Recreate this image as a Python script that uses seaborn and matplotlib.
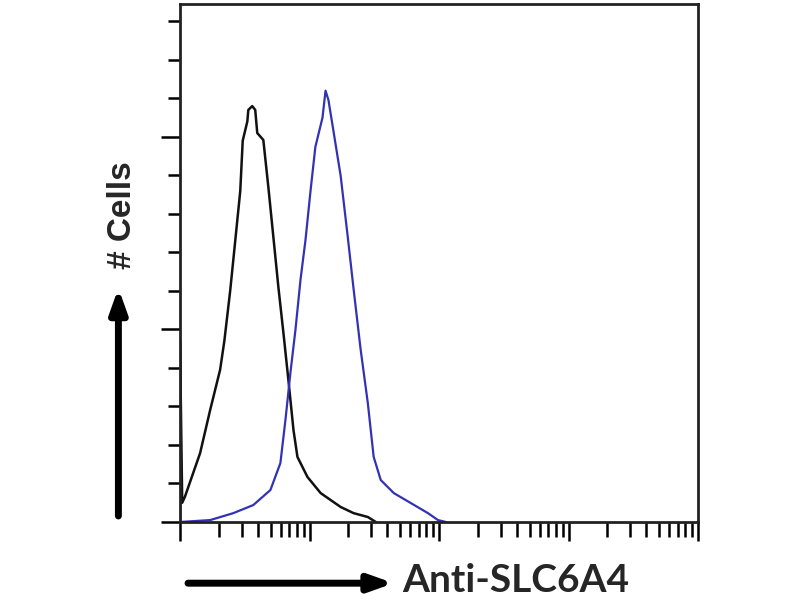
import numpy as np
import pandas as pd
import matplotlib
matplotlib.use("Agg")
import matplotlib.pyplot as plt
import seaborn as sns

# fluorescence intensity (log axis) and cell counts
control_fl = [1.0, 1.0, 1.04, 1.09, 1.43, 1.71, 2.04, 2.20, 2.44, 2.67, 2.92, 3.05, 3.31, 3.37,
              3.61, 3.81, 3.95, 4.40, 4.81, 5.26, 5.75, 6.29, 6.87, 7.52, 8.07, 9.64, 12.2,
              17.4, 21.9, 28.2, 32.5]
control_cnt = [0.0, 4.7, 0.5, 0.65, 1.79, 2.91, 3.95, 4.7, 6.0, 7.3, 8.6, 9.9, 10.4, 10.7,
               10.8, 10.7, 10.1, 9.92, 8.70, 7.40, 6.10, 4.91, 3.69, 2.39, 1.69, 1.17, 0.75,
               0.39, 0.23, 0.13, 0.0]

slc_fl = [1.0, 1.71, 2.58, 3.68, 4.99, 5.96, 6.52, 7.12, 7.79, 8.52, 9.31, 10.2, 11.1, 12.6,
          13.3, 14.0, 15.4, 17.4, 19.7, 21.9, 24.8, 28.2, 31.3, 35.5, 44.8, 60.7, 82.2,
          98.2, 113.0]
slc_cnt = [0.0, 0.05, 0.23, 0.44, 0.83, 1.53, 2.65, 3.87, 4.99, 6.29, 7.32, 8.62, 9.74, 10.5,
           11.2, 10.96, 10.1, 8.99, 7.43, 6.05, 4.49, 3.09, 1.69, 1.09, 0.75, 0.49, 0.23,
           0.05, 0.0]

sns.set_style("white")
plt.rcParams['font.family'] = ['Liberation Sans', 'DejaVu Sans']

fig = plt.figure(figsize=(8, 6), dpi=100)
ax = fig.add_axes([0.225, 0.13, 0.6475, 0.8633])

df1 = pd.DataFrame({"fl": control_fl, "cnt": control_cnt})
df2 = pd.DataFrame({"fl": slc_fl, "cnt": slc_cnt})
sns.lineplot(data=df1, x="fl", y="cnt", ax=ax, color="#111111", lw=1.8, sort=False,
             estimator=None)
sns.lineplot(data=df2, x="fl", y="cnt", ax=ax, color="#3232b4", lw=1.6, sort=False,
             estimator=None)

ax.set_xscale("log")
ax.set_xlim(1, 10000)
ax.set_ylim(0, 13.45)

ax.set_yticks([0, 5, 10])
ax.set_yticks(np.arange(0, 14), minor=True)
ax.xaxis.set_minor_locator(matplotlib.ticker.LogLocator(base=10, subs=np.arange(2, 10)))
ax.tick_params(axis="both", which="both", direction="out", labelleft=False,
               labelbottom=False, color="black", width=1.8)
ax.tick_params(axis="y", which="major", length=14, left=True)
ax.tick_params(axis="y", which="minor", length=9, left=True)
ax.tick_params(axis="x", which="major", length=14, bottom=True)
ax.tick_params(axis="x", which="minor", length=11, bottom=True)
ax.set_xlabel("")
ax.set_ylabel("")
for s in ax.spines.values():
    s.set_visible(True)
    s.set_color("#222222")
    s.set_linewidth(2)

# axis captions with arrows
fig.text(0.153, 0.642, "# Cells", rotation=90, fontsize=24, fontweight="bold",
         ha="center", va="center")
ax.annotate("", xy=(0.148, 0.52), xytext=(0.148, 0.14), xycoords="figure fraction",
            arrowprops=dict(arrowstyle="-|>,head_width=0.5,head_length=1.4", lw=5,
                            color="black", shrinkA=0, shrinkB=0), annotation_clip=False)
fig.text(0.503, 0.0135, "Anti-SLC6A4", fontsize=28, fontweight="bold",
         family=["Lato", "DejaVu Sans"], ha="left", va="baseline")
ax.annotate("", xy=(0.492, 0.028), xytext=(0.235, 0.028), xycoords="figure fraction",
            arrowprops=dict(arrowstyle="-|>,head_width=0.5,head_length=1.4", lw=5,
                            color="black", shrinkA=0, shrinkB=0), annotation_clip=False)

fig.savefig("out.png", dpi=100)
